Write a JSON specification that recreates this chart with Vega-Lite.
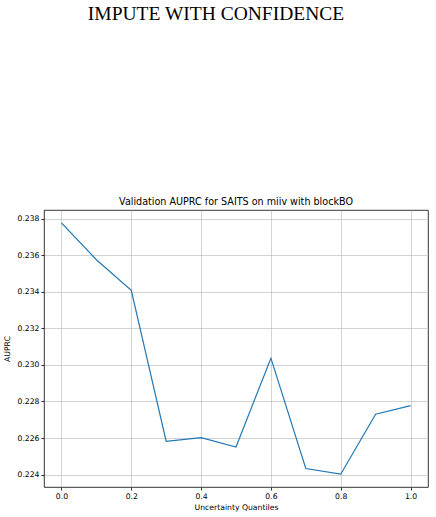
{
  "$schema": "https://vega.github.io/schema/vega-lite/v6.json",
  "padding": {"left": 3, "top": 4, "right": 6, "bottom": 4},
  "background": "white",
  "title": {
    "text": "IMPUTE WITH CONFIDENCE",
    "font": "Liberation Serif",
    "fontSize": 19.5,
    "fontWeight": "normal",
    "color": "black",
    "anchor": "middle",
    "frame": "bounds",
    "offset": 172.5
  },
  "vconcat": [
    {
      "width": 384,
      "height": 277,
      "title": {
        "text": "Validation AUPRC for SAITS on miiv with blockBO",
        "font": "DejaVu Sans",
        "fontSize": 9.6,
        "fontWeight": "normal",
        "color": "black",
        "anchor": "middle",
        "offset": 3
      },
      "data": {
        "values": [
          {"quantile": 0.0, "auprc": 0.23778},
          {"quantile": 0.1, "auprc": 0.23576},
          {"quantile": 0.2, "auprc": 0.23408},
          {"quantile": 0.3, "auprc": 0.22582},
          {"quantile": 0.4, "auprc": 0.22602},
          {"quantile": 0.5, "auprc": 0.22551},
          {"quantile": 0.6, "auprc": 0.23037},
          {"quantile": 0.7, "auprc": 0.22433},
          {"quantile": 0.8, "auprc": 0.22402},
          {"quantile": 0.9, "auprc": 0.2273},
          {"quantile": 1.0, "auprc": 0.22777}
        ]
      },
      "mark": {"type": "line", "color": "#1f77b4", "strokeWidth": 1.2, "clip": true},
      "encoding": {
        "x": {
          "field": "quantile",
          "type": "quantitative",
          "scale": {"domain": [-0.05, 1.05], "nice": false, "zero": false},
          "axis": {
            "title": "Uncertainty Quantiles",
            "values": [0, 0.2, 0.4, 0.6, 0.8, 1.0],
            "format": ".1f",
            "titlePadding": 3.5
          }
        },
        "y": {
          "field": "auprc",
          "type": "quantitative",
          "scale": {"domain": [0.22332, 0.23848], "nice": false, "zero": false},
          "axis": {
            "title": "AUPRC",
            "values": [0.224, 0.226, 0.228, 0.23, 0.232, 0.234, 0.236, 0.238],
            "format": ".3f",
            "titlePadding": 5
          }
        }
      }
    }
  ],
  "config": {
    "view": {"stroke": "black", "strokeWidth": 0.8},
    "axis": {
      "domain": false,
      "grid": true,
      "gridColor": "#b0b0b0",
      "gridWidth": 0.7,
      "gridOpacity": 0.8,
      "ticks": true,
      "tickColor": "black",
      "tickSize": 3,
      "tickWidth": 0.8,
      "labelFont": "DejaVu Sans",
      "labelFontSize": 7.7,
      "labelColor": "black",
      "labelPadding": 2,
      "titleFont": "DejaVu Sans",
      "titleFontSize": 7.7,
      "titleFontWeight": "normal",
      "titleColor": "black"
    }
  }
}
